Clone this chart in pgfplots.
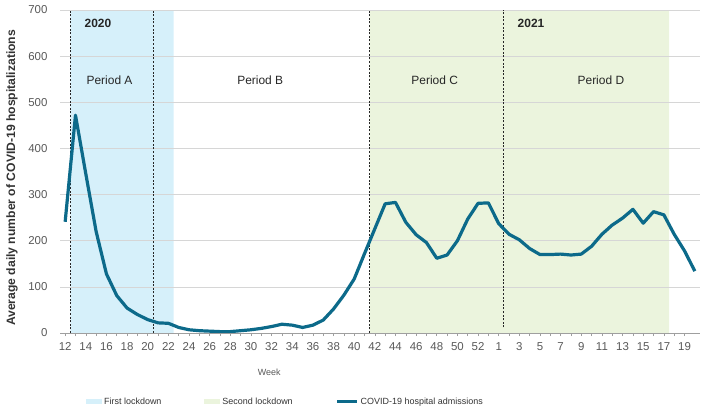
\documentclass[border=0pt]{standalone}
\usepackage{pgfplots}
\pgfplotsset{compat=1.18}
\usepackage{fontspec}
\setmainfont{Liberation Sans}
\definecolor{lineblue}{HTML}{0C6A8A}
\definecolor{shadeblue}{HTML}{D6F0FA}
\definecolor{shadegreen}{HTML}{EBF4DD}
\definecolor{tickgray}{HTML}{595959}
\begin{document}
\begin{tikzpicture}
\begin{axis}[
 set layers,
 scale only axis, width=640bp, height=323bp,
 at={(0,0)}, anchor=south west,
 xmin=-0.5, xmax=61.5, ymin=0, ymax=700,
 axis x line*=bottom, axis y line*=left,
 y axis line style={draw=none},
 x axis line style={draw=gray!75, line width=0.8bp},
 xtick={0,2,...,60},
 xticklabels={12,14,16,18,20,22,24,26,28,30,32,34,36,38,40,42,44,46,48,50,52,1,3,5,7,9,11,13,15,17,19},
 minor x tick num=1,
 tick align=outside,
 major tick length=3bp, minor tick length=3bp,
 xtick style={draw=gray!75, line width=0.6bp},
 ytick={0,100,...,700},
 ytick style={draw=none},
 ymajorgrids, grid style={draw=gray!32, line width=0.6bp},
 tick label style={font=\fontsize{11.5}{13}\selectfont, text=tickgray},
 /pgf/number format/assume math mode=true,
 yticklabel style={xshift=-6bp},
 xticklabel style={yshift=-3bp},
 xlabel={Week},
 xlabel style={at={(axis description cs:0.327,-0.121)}, anchor=center, font=\fontsize{9}{11}\selectfont, text=tickgray},
 ylabel={Average daily number of COVID-19 hospitalizations},
 ylabel style={at={(axis description cs:-0.075,0.48)}, anchor=center, font=\fontsize{12.2}{14}\selectfont\bfseries, text=black!80},
 legend columns=3,
 legend style={draw=none, fill=none, inner sep=0pt, at={(axis description cs:0.0406,-0.2136)}, anchor=west, font=\fontsize{9}{11}\selectfont, text=black!80, cells={anchor=west}, /tikz/every even column/.append style={column sep=41bp}},
]
\addplot[fill=shadeblue, draw=none, area legend, on layer=axis background,
  legend image code/.code={\fill[shadeblue] (0bp,-2.5bp) rectangle (16bp,2.5bp);}]
  coordinates {(0.5,0) (0.5,700) (10.5,700) (10.5,0)} \closedcycle;
\addlegendentry{First lockdown}
\addplot[fill=shadegreen, draw=none, area legend, on layer=axis background,
  legend image code/.code={\fill[shadegreen] (0bp,-2.5bp) rectangle (16bp,2.5bp);}]
  coordinates {(29.5,0) (29.5,700) (58.5,700) (58.5,0)} \closedcycle;
\addlegendentry{Second lockdown}
\addplot[forget plot, black!85, line width=0.6bp, dash pattern=on 2bp off 1.6bp] coordinates {(0.5,0) (0.5,700)};
\addplot[forget plot, black!85, line width=0.6bp, dash pattern=on 2bp off 1.6bp] coordinates {(8.5,0) (8.5,700)};
\addplot[forget plot, black!85, line width=0.6bp, dash pattern=on 2bp off 1.6bp] coordinates {(29.5,0) (29.5,700)};
\addplot[forget plot, black!85, line width=0.6bp, dash pattern=on 2bp off 1.6bp] coordinates {(42.4,12) (42.4,700)};
\addplot[lineblue, line width=3.2bp, line join=round,
  legend image code/.code={\draw[lineblue, line width=3bp] (0bp,0bp) -- (20bp,0bp);}]
  table {
x y
0 241
1 472
2 345
3 220
4 128
5 81
6 54
7 40
8 29
9 22
10 21
11 12
12 7
13 5
14 4
15 3
16 3
17 5
18 7
19 10
20 14
21 19
22 17
23 12
24 17
25 28
26 52
27 82
28 117
29 172
30 226
31 280
32 283
33 240
34 213
35 196
36 162
37 169
38 200
39 247
40 281
41 282
42 237
43 214
44 202
45 183
46 170
47 170
48 171
49 169
50 171
51 188
52 214
53 234
54 249
55 268
56 238
57 263
58 256
59 214
60 178
61 134
};
\addlegendentry{COVID-19 hospital admissions}
\node[anchor=west, font=\fontsize{12}{14}\selectfont\bfseries, text=black!85] at (axis cs:1.55,671) {2020};
\node[anchor=west, font=\fontsize{12}{14}\selectfont\bfseries, text=black!85] at (axis cs:43.5,671) {2021};
\node[font=\fontsize{12}{14}\selectfont, text=black!85] at (axis cs:4.3,547) {Period A};
\node[font=\fontsize{12}{14}\selectfont, text=black!85] at (axis cs:18.9,547) {Period B};
\node[font=\fontsize{12}{14}\selectfont, text=black!85] at (axis cs:35.8,547) {Period C};
\node[font=\fontsize{12}{14}\selectfont, text=black!85] at (axis cs:51.9,547) {Period D};
\end{axis}
\pgfresetboundingbox
\path (-60bp,-82bp) rectangle (642bp,333bp);
\end{tikzpicture}
\end{document}
